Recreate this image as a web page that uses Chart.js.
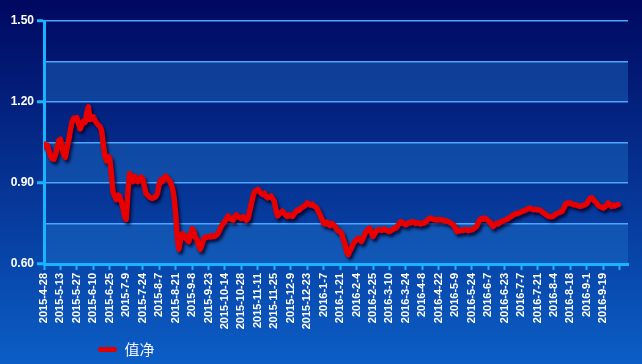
<!DOCTYPE html>
<html>
<head>
<meta charset="utf-8">
<script src="https://cdn.jsdelivr.net/npm/chart.js@4/dist/chart.umd.min.js"></script>
<style>
  html, body { margin: 0; padding: 0; background: #00106e; }
  #c { display: block; }
</style>
</head>
<body>
<canvas id="c" width="642" height="364"></canvas>
<script>
// ---- data ----
const seriesName = '值净';
const tickLabels = ['2015-4-28','2015-5-13','2015-5-27','2015-6-10','2015-6-25','2015-7-9','2015-7-24','2015-8-7','2015-8-21','2015-9-8','2015-9-23','2015-10-14','2015-10-28','2015-11-11','2015-11-25','2015-12-9','2015-12-23','2016-1-7','2016-1-21','2016-2-4','2016-2-25','2016-3-10','2016-3-24','2016-4-8','2016-4-22','2016-5-9','2016-5-24','2016-6-7','2016-6-23','2016-7-7','2016-7-21','2016-8-4','2016-8-18','2016-9-1','2016-9-19'];
const yTickValues = [0.60, 0.90, 1.20, 1.50];
const navValues = [
1.044,1.035,1.040,1.020,1.000,0.990,0.988,1.005,1.030,1.058,
1.062,1.035,1.005,0.995,1.030,1.058,1.095,1.125,1.140,1.135,
1.142,1.120,1.100,1.115,1.130,1.125,1.160,1.182,1.135,1.140,
1.145,1.132,1.122,1.115,1.110,1.095,1.045,1.000,0.982,0.998,
0.990,0.930,0.865,0.850,0.838,0.855,0.850,0.830,0.808,0.775,
0.765,0.865,0.935,0.920,0.905,0.925,0.915,0.905,0.910,0.922,
0.915,0.888,0.862,0.855,0.848,0.845,0.843,0.846,0.850,0.862,
0.895,0.912,0.905,0.918,0.925,0.915,0.912,0.900,0.883,0.850,
0.790,0.700,0.655,0.690,0.712,0.700,0.705,0.688,0.683,0.705,
0.730,0.722,0.698,0.690,0.668,0.655,0.670,0.692,0.700,0.698,
0.702,0.700,0.705,0.701,0.703,0.708,0.715,0.728,0.742,0.750,
0.758,0.768,0.778,0.770,0.764,0.762,0.775,0.782,0.774,0.772,
0.768,0.775,0.770,0.762,0.768,0.795,0.822,0.850,0.868,0.872,
0.876,0.868,0.862,0.857,0.862,0.850,0.845,0.848,0.852,0.842,
0.832,0.800,0.778,0.785,0.790,0.796,0.788,0.780,0.776,0.782,
0.778,0.776,0.785,0.792,0.800,0.798,0.805,0.810,0.813,0.818,
0.826,0.822,0.818,0.822,0.815,0.812,0.805,0.792,0.780,0.765,
0.752,0.748,0.755,0.746,0.742,0.750,0.745,0.738,0.728,0.722,
0.720,0.712,0.690,0.672,0.645,0.635,0.650,0.660,0.675,0.684,
0.690,0.696,0.692,0.683,0.695,0.712,0.722,0.728,0.733,0.715,
0.702,0.712,0.722,0.726,0.728,0.724,0.726,0.730,0.725,0.722,
0.720,0.724,0.728,0.732,0.733,0.742,0.750,0.757,0.752,0.748,
0.745,0.750,0.754,0.752,0.757,0.755,0.750,0.753,0.751,0.748,
0.752,0.751,0.756,0.762,0.768,0.770,0.767,0.764,0.765,0.762,
0.766,0.763,0.764,0.760,0.762,0.758,0.757,0.752,0.748,0.745,
0.732,0.720,0.725,0.722,0.726,0.724,0.728,0.726,0.723,0.727,
0.726,0.730,0.735,0.739,0.755,0.764,0.768,0.765,0.770,0.766,
0.760,0.757,0.745,0.739,0.745,0.751,0.748,0.754,0.757,0.760,
0.762,0.764,0.768,0.772,0.776,0.780,0.784,0.788,0.786,0.790,
0.793,0.795,0.798,0.800,0.804,0.807,0.805,0.802,0.801,0.803,
0.800,0.801,0.797,0.792,0.788,0.783,0.779,0.776,0.775,0.776,
0.779,0.784,0.788,0.790,0.793,0.795,0.808,0.822,0.826,0.824,
0.826,0.822,0.819,0.820,0.817,0.815,0.813,0.815,0.818,0.820,
0.824,0.835,0.843,0.845,0.838,0.832,0.825,0.816,0.813,0.810,
0.807,0.812,0.818,0.826,0.820,0.813,0.818,0.815,0.818,0.820
];
const daysPerTick = 10;

// ---- styling ----
const CYAN = '#18b4ff';
const GRID = '#4aa6ff';

const bgPlugin = {
  id: 'bg',
  beforeDraw(chart) {
    const {ctx, chartArea, scales} = chart;
    ctx.save();
    const g = ctx.createLinearGradient(0, 0, 0, chart.height);
    g.addColorStop(0, '#000860');
    g.addColorStop(1, '#0b5ec6');
    ctx.fillStyle = g;
    ctx.fillRect(0, 0, chart.width, chart.height);
    const y = scales.y;
    const bands = [[1.35, 1.20], [1.05, 0.90], [0.75, 0.60]];
    ctx.fillStyle = 'rgba(30,115,200,0.42)';
    bands.forEach(([a, b]) => {
      const y1 = y.getPixelForValue(a), y2 = y.getPixelForValue(b);
      ctx.fillRect(chartArea.left, y1, chartArea.right - chartArea.left, y2 - y1);
    });
    ctx.restore();
  },
  afterLayout(chart) {
    const lg = chart.legend;
    if (lg) { lg.left += 88; lg.right += 88; lg.top += 3; lg.bottom += 3; }
  },
  beforeDatasetDraw(chart) {
    const ctx = chart.ctx;
    ctx.save();
    ctx.shadowColor = 'rgba(0,0,40,0.75)';
    ctx.shadowBlur = 3;
    ctx.shadowOffsetX = 2;
    ctx.shadowOffsetY = 3;
  },
  afterDatasetDraw(chart) {
    chart.ctx.restore();
  }
};

new Chart(document.getElementById('c'), {
  type: 'line',
  data: {
    datasets: [{
      label: seriesName,
      data: navValues.map((v, i) => ({x: i, y: v})),
      borderColor: '#e80000',
      backgroundColor: '#e80000',
      borderWidth: 5.5,
      borderJoinStyle: 'round',
      borderCapStyle: 'round',
      pointRadius: 0,
      tension: 0,
      fill: false
    }]
  },
  options: {
    responsive: false,
    devicePixelRatio: 1,
    animation: false,
    layout: { padding: { top: 21, right: 14, left: 0, bottom: 0 } },
    plugins: {
      tooltip: { enabled: false },
      legend: {
        display: true,
        position: 'bottom',
        align: 'start',
        labels: {
          color: '#f4f6ff',
          font: { family: "'Noto Sans CJK SC', sans-serif", size: 15 },
          boxWidth: 19,
          boxHeight: 5,
          padding: 10,
          useBorderRadius: true,
          borderRadius: 2.5,
          generateLabels(chart) {
            const items = Chart.defaults.plugins.legend.labels.generateLabels(chart);
            items.forEach(it => { it.lineWidth = 0; it.strokeStyle = 'transparent'; it.fillStyle = '#e00000'; });
            return items;
          }
        }
      }
    },
    scales: {
      x: {
        type: 'linear',
        min: 0,
        max: 355,
        afterFit(s) { s.height = 65; },
        border: { display: true, color: CYAN, width: 3 },
        grid: {
          drawOnChartArea: false,
          drawTicks: true,
          tickLength: 6,
          tickWidth: 2,
          color: CYAN
        },
        ticks: {
          stepSize: daysPerTick,
          autoSkip: false,
          maxTicksLimit: 100,
          includeBounds: false,
          minRotation: 90,
          maxRotation: 90,
          padding: 3,
          color: '#ffffff',
          font: { family: "'Liberation Sans', Arial, sans-serif", size: 11, weight: 'bold' },
          callback(value) {
            const k = Math.round(value / daysPerTick);
            return tickLabels[k] !== undefined ? tickLabels[k] : '';
          }
        }
      },
      y: {
        type: 'linear',
        min: 0.6,
        max: 1.5,
        afterFit(s) { s.width = 44; },
        border: { display: true, color: CYAN, width: 3 },
        grid: {
          color: GRID,
          lineWidth: 1.5,
          drawTicks: true,
          tickLength: 7,
          tickWidth: 3,
          tickColor(ctx) {
            const v = Math.round(ctx.tick.value * 100);
            return yTickValues.some(t => Math.round(t * 100) === v) ? CYAN : 'rgba(0,0,0,0)';
          }
        },
        ticks: {
          stepSize: 0.15,
          padding: 3,
          color: '#ffffff',
          font: { family: "'Liberation Sans', Arial, sans-serif", size: 12, weight: 'bold' },
          callback(value) {
            const v = Math.round(value * 100);
            const hit = yTickValues.find(t => Math.round(t * 100) === v);
            return hit !== undefined ? hit.toFixed(2) : '';
          }
        }
      }
    }
  },
  plugins: [bgPlugin]
});
</script>
</body>
</html>
